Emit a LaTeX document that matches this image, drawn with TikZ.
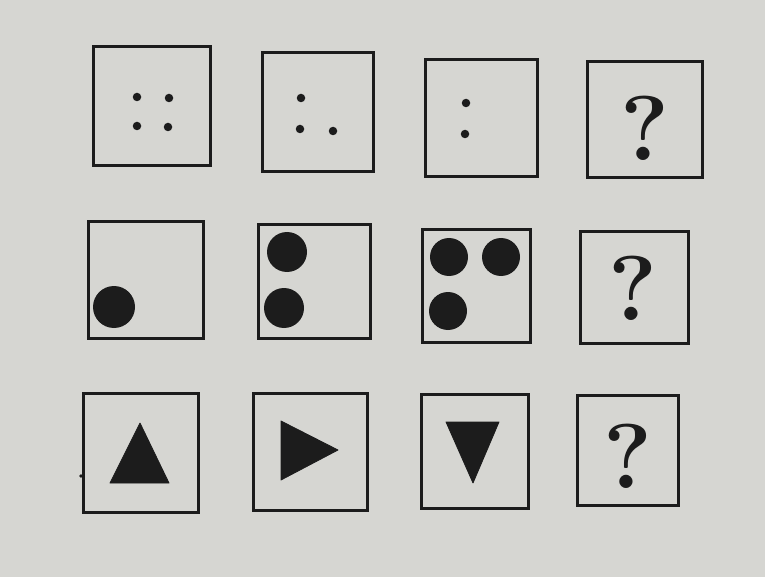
\documentclass[tikz,border=0pt]{standalone}
\definecolor{paper}{RGB}{214,214,210}
\definecolor{ink}{RGB}{28,28,28}
\tikzset{
  box/.style={draw=ink, line width=3pt, inner sep=0pt},
  dot/.style={fill=ink, circle, inner sep=0pt, minimum size=8.5pt},
  disc/.style={fill=ink, circle, inner sep=0pt, minimum size=40pt},
  tri/.style={fill=ink, draw=ink, line width=0.8pt, line join=round},
  qmark/.style={text=ink, inner sep=0pt, font=\fontsize{92}{92}\selectfont\bfseries}
}
\begin{document}
\begin{tikzpicture}[x=1pt,y=-1pt]
\fill[paper] (0,0) rectangle (765,577);
\useasboundingbox (0,0) rectangle (765,577);
% row 1
\node[box, minimum width=117pt, minimum height=119pt] (b1) at (151.5,106.5) {};
\node[box, minimum width=111pt, minimum height=119pt] (b2) at (317.5,112.5) {};
\node[box, minimum width=112pt, minimum height=117pt] (b3) at (481,118.5) {};
\node[box, minimum width=115pt, minimum height=116pt] (b4) at (644.5,120) {};
\node[dot] (d11) at (137,97) {};
\node[dot] (d12) at (169,98) {};
\node[dot] (d13) at (137,126) {};
\node[dot] (d14) at (168,127) {};
\node[dot] (d21) at (301,98) {};
\node[dot] (d22) at (300,129) {};
\node[dot] (d23) at (333,131) {};
\node[dot] (d31) at (466,103) {};
\node[dot] (d32) at (465,134) {};
\node[qmark] (q1) at (645,128) {?};
% row 2
\node[box, minimum width=115pt, minimum height=116pt] (b5) at (145.5,280) {};
\node[box, minimum width=112pt, minimum height=113pt] (b6) at (314,281.5) {};
\node[box, minimum width=108pt, minimum height=112pt] (b7) at (476,286) {};
\node[box, minimum width=108pt, minimum height=111pt] (b8) at (634,287.5) {};
\node[disc, minimum size=42pt] (c51) at (114,307) {};
\node[disc] (c61) at (287,252) {};
\node[disc] (c62) at (284,308) {};
\node[disc, minimum size=38pt] (c71) at (449,257) {};
\node[disc, minimum size=38pt] (c72) at (501,257) {};
\node[disc, minimum size=38pt] (c73) at (448,311) {};
\node[qmark] (q2) at (633,288) {?};
% row 3
\node[box, minimum width=115pt, minimum height=119pt] (b9) at (140.5,452.5) {};
\node[box, minimum width=114pt, minimum height=117pt] (b10) at (310,451.5) {};
\node[box, minimum width=107pt, minimum height=114pt] (b11) at (474.5,451) {};
\node[box, minimum width=101pt, minimum height=110pt] (b12) at (627.5,450) {};
\fill[ink] (81,476) circle (1.8pt);
\filldraw[tri] (140,423) -- (169,483) -- (110,483) -- cycle;
\filldraw[tri] (281,421) -- (338,450) -- (281,480) -- cycle;
\filldraw[tri] (446,422) -- (499,422) -- (473,483) -- cycle;
\node[qmark] (q3) at (628,456) {?};
\end{tikzpicture}
\end{document}
